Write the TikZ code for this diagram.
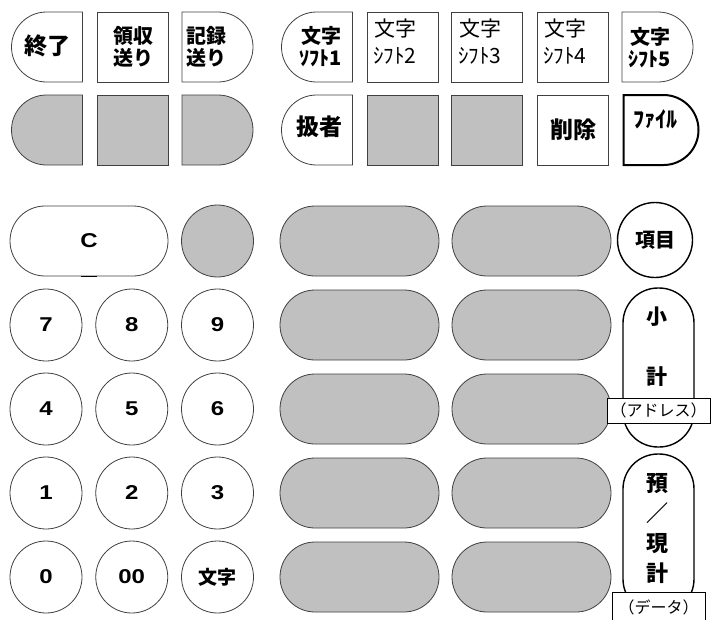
\documentclass[tikz,border=0pt]{standalone}
\usepackage{fontspec}
\newfontfamily\jpfont{Noto Sans CJK JP}
\newfontfamily\digitfont{Liberation Sans}
\newcommand\widekey[1]{\scalebox{1.2}[1]{#1}}
\usetikzlibrary{shapes.misc}
\definecolor{keyLine}{HTML}{404040}
\definecolor{keyGray}{HTML}{C0C0C0}
\tikzset{
  keyfig/.style={
    x=1pt, y=-1pt,
    every node/.append style={font=\digitfont\bfseries\fontsize{20}{22}\selectfont},
  },
  keybase/.style={
    draw=keyLine, line width=0.8pt, fill=white, inner sep=0pt,
    align=center, minimum width=71pt, minimum height=70pt,
  },
  sqkey/.style={keybase, rectangle},
  lkey/.style={keybase, rounded rectangle, rounded rectangle right arc=none},
  rkey/.style={keybase, rounded rectangle, rounded rectangle left arc=none},
  numkey/.style={keybase, circle, minimum size=72pt},
  pillkey/.style={keybase, rounded rectangle, minimum width=159pt},
  tallkey/.style={keybase, rounded corners=35pt, minimum height=159pt},
  blank/.style={fill=keyGray},
  strong/.style={draw=black, line width=1.4pt},
  keytext/.style={inner sep=0pt, align=center},
  boldtext/.style={keytext, font=\jpfont\bfseries\fontsize{20}{22}\selectfont},
  bigtext/.style={keytext, font=\jpfont\bfseries\fontsize{23}{27}\selectfont},
  shifttext/.style={keytext, font=\jpfont\fontsize{21}{27}\selectfont},
  tagbox/.style={draw=black, line width=0.6pt, fill=white, inner sep=0pt,
    minimum height=25pt, font=\jpfont\fontsize{16}{18}\selectfont},
}
\begin{document}
\begin{tikzpicture}[keyfig]
  \useasboundingbox (0,0) rectangle (714,619);
  \clip (0,0) rectangle (714,619);
  % obere Tastenreihe
  \node[lkey] (kEnd) at (47,47) {};
  \node[sqkey] (kRecv) at (132.5,47) {};
  \node[rkey] (kLog) at (217.5,47) {};
  \node[lkey] (kShiftA) at (317,47) {};
  \node[sqkey] (kShiftB) at (402.5,47) {};
  \node[sqkey] (kShiftC) at (487,47) {};
  \node[sqkey] (kShiftD) at (572.5,47) {};
  \node[rkey] (kShiftE) at (657.5,47) {};
  \node[bigtext] (tEnd) at (47,46) {終了};
  \node[boldtext] (tRecv) at (133,47) {領収\\送り};
  \node[boldtext] (tLog) at (206,47) {記録\\送り};
  \node[boldtext] (tShiftA) at (321,47) {文字\\ｿﾌﾄ1};
  \node[shifttext] (tShiftB) at (395,41.5) {文字\\ｼﾌﾄ2};
  \node[shifttext] (tShiftC) at (480,41.5) {文字\\ｼﾌﾄ3};
  \node[shifttext] (tShiftD) at (565,41.5) {文字\\ｼﾌﾄ4};
  \node[boldtext] (tShiftE) at (650,48) {文字\\ｼﾌﾄ5};
  % zweite Reihe
  \node[lkey,blank] (kBlankA) at (47,130) {};
  \node[sqkey,blank] (kBlankB) at (132.5,130) {};
  \node[rkey,blank] (kBlankC) at (217.5,130) {};
  \node[lkey] (kOper) at (317,130) {};
  \node[sqkey,blank] (kBlankD) at (402.5,130) {};
  \node[sqkey,blank] (kBlankE) at (487,130) {};
  \node[sqkey] (kDel) at (572.5,130) {};
  \node[rkey,draw=black,line width=2pt,minimum width=75pt] (kFile) at (661,130) {};
  \node[bigtext] (tOper) at (319,127) {扱者};
  \node[bigtext] (tDel) at (573,130) {削除};
  \node[keytext,font=\jpfont\bfseries\fontsize{22}{24}\selectfont] (tFile) at (655,119) {ﾌｧｲﾙ};
  % Zehnerblock
  \node[pillkey,minimum width=158pt] (kC) at (89,241) {\widekey{C}};
  \draw[line width=1.6pt] ([xshift=-8pt]kC.south) -- ([xshift=8pt]kC.south);
  \node[numkey,blank] (kBlankF) at (217.5,241) {};
  \foreach \row/\ya/\yb/\yc in {0/7/8/9, 1/4/5/6, 2/1/2/3}
    \foreach \lbl [count=\col from 0] in {\ya,\yb,\yc}
      \node[numkey] (kNum\lbl) at (46+85.75*\col, 325+84*\row) {\widekey{\lbl}};
  \node[numkey] (kZero) at (46,577) {\widekey{0}};
  \node[numkey] (kZeroZero) at (131.75,577) {\widekey{00}};
  \node[numkey,font=\jpfont\bfseries\fontsize{19}{22}\selectfont] (kChar) at (217.5,577) {文字};
  % graue Funktionstasten
  \foreach \row in {0,...,4} {
    \node[pillkey,blank] (kFnA\row) at (359.5,241+84*\row) {};
    \node[pillkey,blank] (kFnB\row) at (531.5,241+84*\row) {};
  }
  % rechte Spalte
  \node[numkey,strong,minimum size=75pt] (kItem) at (655,240) {};
  \node[keytext,font=\jpfont\bfseries\fontsize{20}{24}\selectfont] (tItem) at (655,240) {項目};
  \node[tallkey,strong] (kSub) at (658.5,367.5) {};
  \node[keytext,font=\jpfont\bfseries\fontsize{21}{60}\selectfont] (tSub) at (657,347) {小\\計};
  \node[tallkey,strong,minimum height=160pt] (kDep) at (658.5,534) {};
  \node[keytext,font=\jpfont\bfseries\fontsize{22}{30}\selectfont] (tDep) at (657,528) {預\\／\\現\\計};
  \node[tagbox,minimum width=103pt] (tagAddr) at (658.5,410.5) {（アドレス）};
  \node[tagbox,minimum width=93pt,minimum height=30pt] (tagData) at (658.5,607) {（データ）};
\end{tikzpicture}
\end{document}
